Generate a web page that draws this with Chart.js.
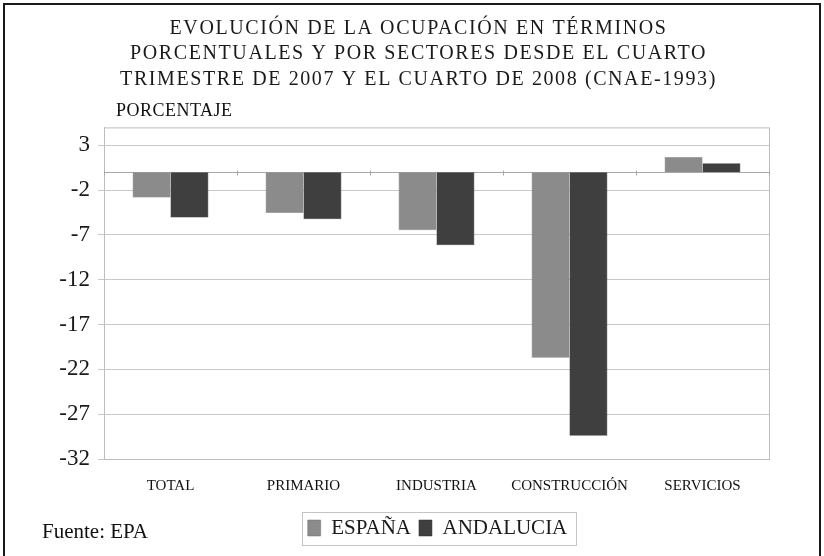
<!DOCTYPE html>
<html>
<head>
<meta charset="utf-8">
<script src="https://cdn.jsdelivr.net/npm/chart.js@4.4.0/dist/chart.umd.min.js"></script>
<style>
body{margin:0;background:#fff;}
#wrap{position:relative;width:824px;height:556px;overflow:hidden;}
#frame{position:absolute;left:3px;top:3px;width:818px;height:570px;border:2px solid #1a1a1a;box-sizing:border-box;}
#chart{position:absolute;left:0;top:0;}
.note{position:absolute;font-family:"Liberation Serif","Times New Roman",serif;color:#111;line-height:1;white-space:nowrap;}
</style>
</head>
<body>
<div id="wrap">
<div id="frame"></div>
<canvas id="chart" width="824" height="556"></canvas>
<div class="note" style="left:116px;top:101px;font-size:18px;letter-spacing:0.5px;">PORCENTAJE</div>
<div class="note" style="left:42px;top:521px;font-size:21px;">Fuente: EPA</div>
</div>
<script>
let sectors = ["TOTAL","PRIMARIO","INDUSTRIA","CONSTRUCCIÓN","SERVICIOS"];
let espana = [-2.83,-4.56,-6.47,-20.7,1.71];
let andalucia = [-5.04,-5.26,-8.16,-29.4,0.99];
let yTicks = [3,-2,-7,-12,-17,-22,-27,-32];

const serif = "'Liberation Serif','Times New Roman',serif";
const legendShift = 48;

// wrap a layout box so it draws shifted (and spaced, for the title)
function shiftBox(chart,box,dx,spacing){
if(!box || box._shifted) return;
const orig = box.draw;
box.draw = function(area){
const ctx = chart.ctx;
ctx.save();
ctx.letterSpacing = spacing;
ctx.translate(dx,0);
orig.call(box,area);
ctx.restore();
};
box._shifted = true;
}

// frame round the plot, zero line, legend box
const decor = {
id:"decor",
beforeDraw(chart){
shiftBox(chart,chart.titleBlock,29,"1.6px");
shiftBox(chart,chart.legend,legendShift,"0px");
},
beforeDatasetsDraw(chart){
const ctx = chart.ctx;
const a = chart.chartArea;
const y0 = Math.round(chart.scales.y.getPixelForValue(0))+0.5;
ctx.save();
ctx.strokeStyle = "#bdbdbd";
ctx.lineWidth = 1;
ctx.strokeRect(a.left+0.5,a.top+0.5,a.right-a.left,a.bottom-a.top);
ctx.strokeStyle = "#a8a8a8";
ctx.beginPath();
ctx.moveTo(a.left,y0);
ctx.lineTo(a.right,y0);
for(let i=0;i<=sectors.length;i++){
let px = Math.round(a.left+(a.right-a.left)*i/sectors.length)+0.5;
ctx.moveTo(px,y0-2);
ctx.lineTo(px,y0+3);
}
ctx.stroke();
ctx.restore();
},
afterDraw(chart){
const boxes = chart.legend.legendHitBoxes;
const ctx = chart.ctx;
let x1 = Math.min(...boxes.map(b=>b.left))-6+legendShift;
let x2 = Math.max(...boxes.map(b=>b.left+b.width))+8+legendShift;
let y1 = Math.min(...boxes.map(b=>b.top))-6;
let y2 = Math.max(...boxes.map(b=>b.top+b.height))+6;
ctx.save();
ctx.strokeStyle = "#c4c4c4";
ctx.lineWidth = 1;
ctx.strokeRect(Math.round(x1)+0.5,Math.round(y1)+0.5,Math.round(x2-x1),Math.round(y2-y1));
ctx.restore();
}
};

new Chart(
document.getElementById("chart"),
{
type:"bar",
data:{
labels:sectors,
datasets:[
{
label:"ESPAÑA",
data:espana,
backgroundColor:"#8b8b8b",
borderColor:"#737373",
borderWidth:0.5,
categoryPercentage:0.57,
barPercentage:1.0
},
{
label:"ANDALUCIA",
data:andalucia,
backgroundColor:"#3f3f3f",
borderColor:"#2c2c2c",
borderWidth:0.5,
categoryPercentage:0.57,
barPercentage:1.0
}
]
},
options:{
responsive:false,
animation:false,
layout:{padding:{left:10,right:55,top:15.5,bottom:7.5}},
plugins:{
tooltip:{enabled:false},
title:{
display:true,
text:[
"EVOLUCIÓN DE LA OCUPACIÓN EN TÉRMINOS",
"PORCENTUALES Y POR SECTORES DESDE EL CUARTO",
"TRIMESTRE DE 2007 Y EL CUARTO DE 2008 (CNAE-1993)"
],
color:"#1a1a1a",
font:{family:serif,size:20,weight:"normal",lineHeight:1.29},
padding:{top:0,bottom:34.5}
},
legend:{
position:"bottom",
labels:{
color:"#1a1a1a",
font:{family:serif,size:21},
boxWidth:13,
boxHeight:16,
padding:8
}
}
},
scales:{
x:{
grid:{display:false,drawTicks:false},
border:{color:"#bdbdbd"},
ticks:{
color:"#111",
font:{family:serif,size:15},
padding:18,
maxRotation:0,
autoSkip:false
},
afterFit(scale){scale.height = 50.5;}
},
y:{
min:-32,
max:5,
afterBuildTicks(scale){
scale.ticks = yTicks.map(v=>({value:v}));
},
grid:{color:"#c8c8c8",tickLength:6,tickColor:"#c8c8c8"},
border:{color:"#bdbdbd"},
ticks:{
color:"#1a1a1a",
font:{family:serif,size:23},
padding:8,
callback:v=>String(v)
},
afterFit(scale){scale.width = 94;}
}
}
},
plugins:[decor]
});
</script>
</body>
</html>
